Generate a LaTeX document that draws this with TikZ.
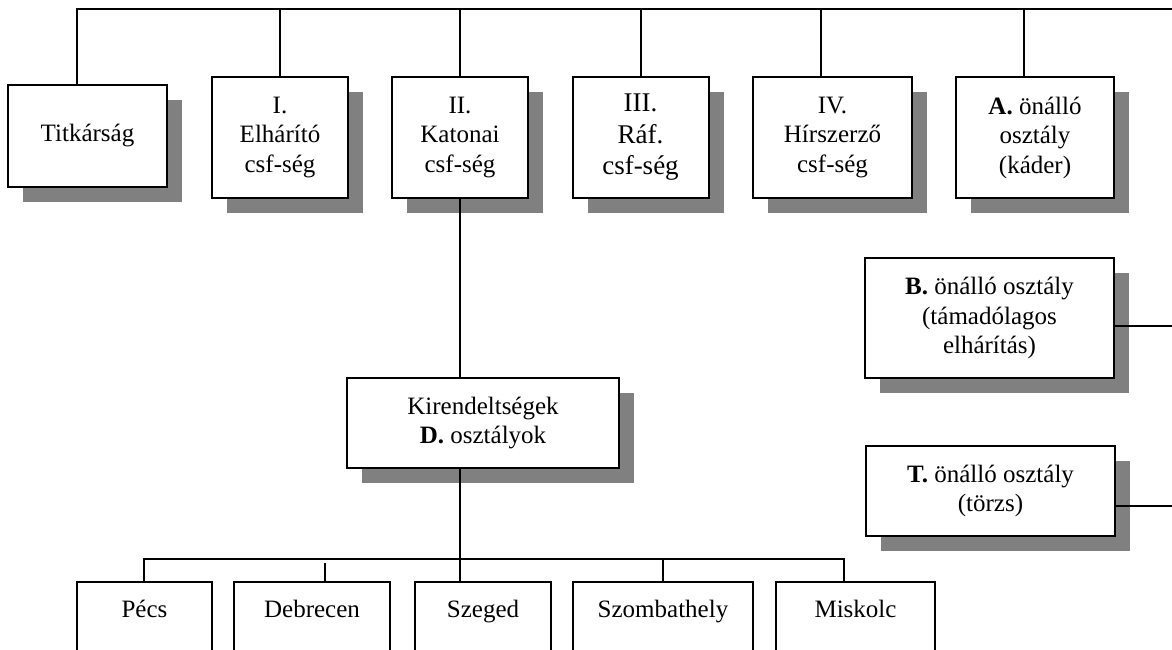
\documentclass[tikz,border=0pt]{standalone}
\usepackage{fontspec}
\setmainfont{Liberation Serif}
\usetikzlibrary{shadows}
\definecolor{shadowgray}{HTML}{808080}
\begin{document}
\begin{tikzpicture}[x=1pt,y=-1pt,
  box/.style={draw=black, line width=2pt, fill=white, align=center, inner sep=0pt,
    drop shadow={shadow xshift=15pt, shadow yshift=-15pt, fill=shadowgray, opacity=1}},
  conn/.style={line width=2pt, line join=miter},
  thinconn/.style={line width=1.3pt},
  txt/.style={font=\fontsize{25}{29.5}\selectfont},
  bigtxt/.style={font=\fontsize{27}{31.5}\selectfont},
  city/.style={draw=black, line width=2pt, fill=white, anchor=north, inner xsep=0pt, inner ysep=0pt,
    text height=35pt, text depth=55pt, font=\fontsize{25}{29.5}\selectfont}]
\useasboundingbox (0,0) rectangle (1172,650);
\clip (0,0) rectangle (1172,650);

% top row
\node[box, txt, minimum width=159pt, minimum height=102pt] (tit) at (87.5,136) {Titkárság};
\node[box, txt, minimum width=136pt, minimum height=121pt] (e1) at (280,137.5) {I.\\Elhárító\\csf-ség};
\node[box, txt, minimum width=136pt, minimum height=121pt] (e2) at (460,137.5) {II.\\Katonai\\csf-ség};
\node[box, bigtxt, minimum width=136pt, minimum height=121pt] (e3) at (640.5,137.5) {III.\\Ráf.\\csf-ség};
\node[box, txt, minimum width=159pt, minimum height=121pt] (e4) at (832.5,137.5) {IV.\\Hírszerző\\csf-ség};
\node[box, txt, minimum width=158pt, minimum height=121pt] (eA) at (1035,137.5) {\textbf{A.} önálló\\osztály\\(káder)};

% middle
\node[box, txt, minimum width=272pt, minimum height=90pt] (kir) at (483,423) {Kirendeltségek\\\textbf{D.} osztályok};
\node[box, txt, minimum width=249pt, minimum height=120pt] (bB) at (989.5,318) {\textbf{B.} önálló osztály\\(támadólagos\\elhárítás)};
\node[box, txt, minimum width=249pt, minimum height=90pt] (bT) at (990.5,491) {\textbf{T.} önálló osztály\\(törzs)};

% bottom row
\node[city, minimum width=135pt] (pecs) at (144.5,581) {Pécs};
\node[city, minimum width=156pt] (deb) at (312,581) {Debrecen};
\node[city, minimum width=136pt] (sze) at (483,581) {Szeged};
\node[city, minimum width=180pt] (szo) at (663,581) {Szombathely};
\node[city, minimum width=159pt] (mis) at (855.5,581) {Miskolc};

% connectors: top bus
\coordinate (top0) at (77,9);
\coordinate (topR) at (1180,9);
\coordinate (c1) at (280,9);
\coordinate (c2) at (460,9);
\coordinate (c3) at (641,9);
\coordinate (c4) at (821,9);
\coordinate (cA) at (1024,9);
\draw[conn] (top0 |- tit.north) -- (top0) -- (topR);
\draw[conn] (c1) -- (c1 |- e1.north);
\draw[conn] (c2) -- (c2 |- e2.north);
\draw[conn] (c3) -- (c3 |- e3.north);
\draw[conn] (c4) -- (c4 |- e4.north);
\draw[conn] (cA) -- (cA |- eA.north);

% II -> Kirendeltsegek
\draw[conn] (e2.south) -- (e2.south |- kir.north);

% Kirendeltsegek -> cities
\coordinate (hb) at (460,559);
\coordinate (hbL) at (144,559);
\coordinate (hbR) at (844,559);
\coordinate (hbD) at (325,563);
\coordinate (hbS) at (663,559);
\draw[conn] (hb |- kir.south) -- (hb);
\draw[conn] (hbL |- pecs.north) -- (hbL) -- (hbR) -- (hbR |- mis.north);
\draw[conn] (hb) -- (hb |- sze.north);
\draw[conn] (hbS) -- (hbS |- szo.north);
\draw[conn] (hbD) -- (hbD |- deb.north);

% right side connectors
\coordinate (rB) at (1180,326);
\coordinate (rT) at (1180,506);
\draw[thinconn] (rB -| bB.east) -- (rB);
\draw[thinconn] (rT -| bT.east) -- (rT);
\end{tikzpicture}
\end{document}
